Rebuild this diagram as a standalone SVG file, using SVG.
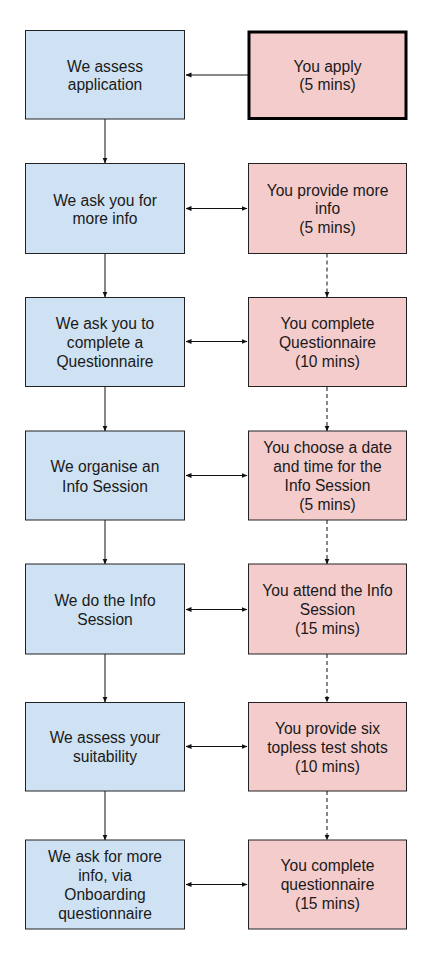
<svg xmlns="http://www.w3.org/2000/svg" width="434" height="963" viewBox="0 0 434 963">
<defs>
<style>
.b{fill:#cfe2f3;stroke:#222;stroke-width:1}
.r{fill:#f4cccc;stroke:#222;stroke-width:1}
.t{font-family:"Liberation Sans",Arial,sans-serif;font-size:15.6px;fill:#1a1a1a;text-anchor:middle}
.c{stroke:#111;stroke-width:1;fill:none}
.d{stroke-dasharray:4 3}
</style>
<marker id="ah" viewBox="0 0 6 6" refX="5.5" refY="3" markerWidth="6" markerHeight="6" markerUnits="userSpaceOnUse" orient="auto-start-reverse">
<path d="M0,0.5 L6,3 L0,5.5 Z" fill="#111"/>
</marker>
</defs>
<rect width="434" height="963" fill="#fff"/>
<g id="connectors">
<line class="c" x1="248" y1="75" x2="186" y2="75" marker-end="url(#ah)"/>
<line class="c" x1="105" y1="119" x2="105" y2="163" marker-end="url(#ah)"/>
<line class="c" x1="105" y1="253.5" x2="105" y2="297" marker-end="url(#ah)"/>
<line class="c" x1="105" y1="387" x2="105" y2="431" marker-end="url(#ah)"/>
<line class="c" x1="105" y1="520" x2="105" y2="564" marker-end="url(#ah)"/>
<line class="c" x1="105" y1="654" x2="105" y2="702" marker-end="url(#ah)"/>
<line class="c" x1="105" y1="791" x2="105" y2="840" marker-end="url(#ah)"/>
<line class="c d" x1="327" y1="253.5" x2="327" y2="297" marker-end="url(#ah)"/>
<line class="c d" x1="327" y1="387" x2="327" y2="431" marker-end="url(#ah)"/>
<line class="c d" x1="327" y1="520" x2="327" y2="564" marker-end="url(#ah)"/>
<line class="c d" x1="327" y1="654" x2="327" y2="702" marker-end="url(#ah)"/>
<line class="c d" x1="327" y1="791" x2="327" y2="840" marker-end="url(#ah)"/>
<line class="c" x1="186" y1="208.5" x2="247" y2="208.5" marker-start="url(#ah)" marker-end="url(#ah)"/>
<line class="c" x1="186" y1="341.5" x2="247" y2="341.5" marker-start="url(#ah)" marker-end="url(#ah)"/>
<line class="c" x1="186" y1="475.5" x2="247" y2="475.5" marker-start="url(#ah)" marker-end="url(#ah)"/>
<line class="c" x1="186" y1="609.5" x2="247" y2="609.5" marker-start="url(#ah)" marker-end="url(#ah)"/>
<line class="c" x1="186" y1="746.5" x2="247" y2="746.5" marker-start="url(#ah)" marker-end="url(#ah)"/>
<line class="c" x1="186" y1="884.5" x2="247" y2="884.5" marker-start="url(#ah)" marker-end="url(#ah)"/>
</g>
<g id="b1"><rect class="b" x="25.5" y="30.5" width="159" height="88.5"/>
<text class="t"><tspan x="105" y="71.5">We assess</tspan><tspan x="105" y="90">application</tspan></text></g>
<g id="r1"><rect x="249" y="32" width="157" height="86.5" fill="#f4cccc" stroke="#000" stroke-width="3"/>
<text class="t"><tspan x="327.5" y="71.5">You apply</tspan><tspan x="327.5" y="90">(5 mins)</tspan></text></g>
<g id="b2"><rect class="b" x="25.5" y="163.5" width="159" height="90"/>
<text class="t"><tspan x="105" y="205.5">We ask you for</tspan><tspan x="105" y="224">more info</tspan></text></g>
<g id="r2"><rect class="r" x="248.5" y="163.5" width="158" height="90"/>
<text class="t"><tspan x="327.5" y="195.5">You provide more</tspan><tspan x="327.5" y="214">info</tspan><tspan x="327.5" y="232.5">(5 mins)</tspan></text></g>
<g id="b3"><rect class="b" x="25.5" y="297.5" width="159" height="89"/>
<text class="t"><tspan x="105" y="329">We ask you to</tspan><tspan x="105" y="348">complete a</tspan><tspan x="105" y="367">Questionnaire</tspan></text></g>
<g id="r3"><rect class="r" x="248.5" y="297.5" width="158" height="89"/>
<text class="t"><tspan x="327.5" y="329">You complete</tspan><tspan x="327.5" y="348">Questionnaire</tspan><tspan x="327.5" y="367">(10 mins)</tspan></text></g>
<g id="b4"><rect class="b" x="25.5" y="431" width="159" height="89"/>
<text class="t"><tspan x="105" y="472">We organise an</tspan><tspan x="105" y="491.5">Info Session</tspan></text></g>
<g id="r4"><rect class="r" x="248.5" y="431" width="158" height="89"/>
<text class="t"><tspan x="327.5" y="452.5">You choose a date</tspan><tspan x="327.5" y="471.5">and time for the</tspan><tspan x="327.5" y="490.5">Info Session</tspan><tspan x="327.5" y="509.5">(5 mins)</tspan></text></g>
<g id="b5"><rect class="b" x="25.5" y="564" width="159" height="90"/>
<text class="t"><tspan x="105" y="605.5">We do the Info</tspan><tspan x="105" y="624.5">Session</tspan></text></g>
<g id="r5"><rect class="r" x="248.5" y="564" width="158" height="90"/>
<text class="t"><tspan x="327.5" y="596">You attend the Info</tspan><tspan x="327.5" y="615">Session</tspan><tspan x="327.5" y="634">(15 mins)</tspan></text></g>
<g id="b6"><rect class="b" x="25.5" y="702.5" width="159" height="88.5"/>
<text class="t"><tspan x="105" y="743">We assess your</tspan><tspan x="105" y="762">suitability</tspan></text></g>
<g id="r6"><rect class="r" x="248.5" y="702.5" width="158" height="88.5"/>
<text class="t"><tspan x="327.5" y="734">You provide six</tspan><tspan x="327.5" y="753">topless test shots</tspan><tspan x="327.5" y="772">(10 mins)</tspan></text></g>
<g id="b7"><rect class="b" x="25.5" y="840" width="159" height="89"/>
<text class="t"><tspan x="105" y="861.5">We ask for more</tspan><tspan x="105" y="880.5">info, via</tspan><tspan x="105" y="899.5">Onboarding</tspan><tspan x="105" y="918.5">questionnaire</tspan></text></g>
<g id="r7"><rect class="r" x="248.5" y="840" width="158" height="89"/>
<text class="t"><tspan x="327.5" y="871">You complete</tspan><tspan x="327.5" y="890">questionnaire</tspan><tspan x="327.5" y="909">(15 mins)</tspan></text></g>
</svg>
